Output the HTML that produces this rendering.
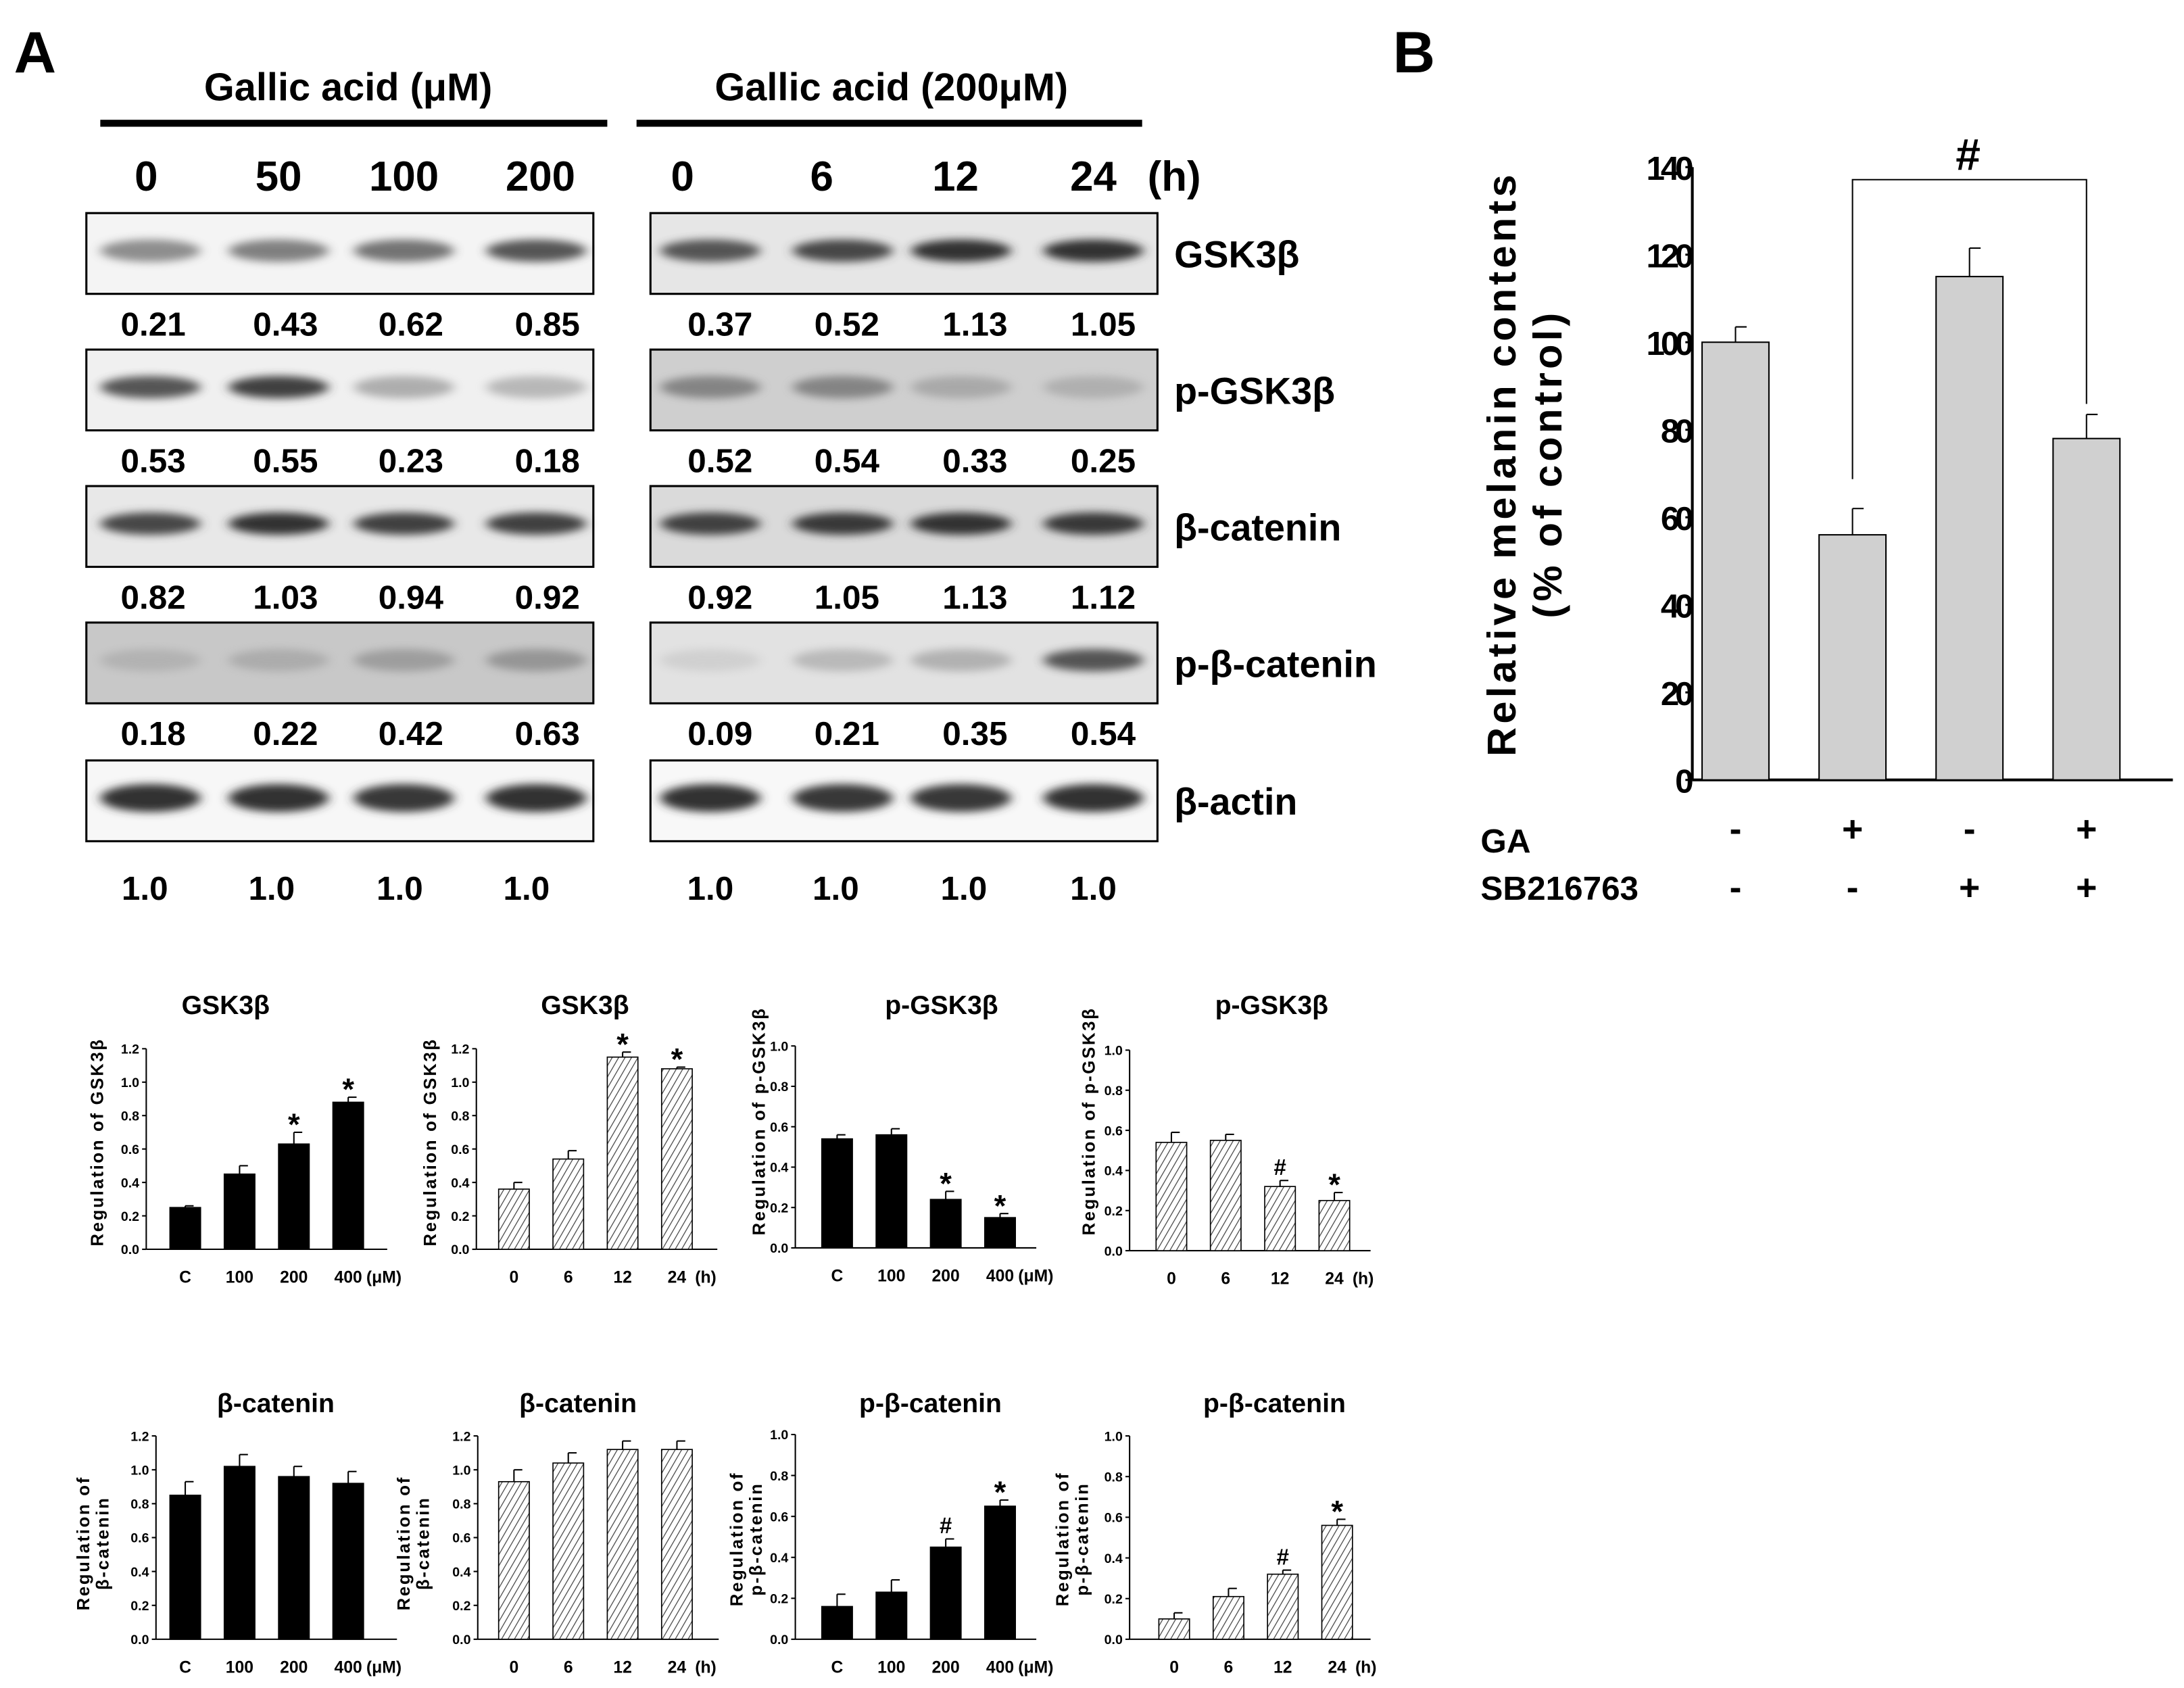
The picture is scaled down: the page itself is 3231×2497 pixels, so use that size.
<!DOCTYPE html>
<html><head><meta charset="utf-8"><style>
html,body{margin:0;padding:0;background:#fff}
svg{display:block}
text{font-family:"Liberation Sans",sans-serif;font-weight:bold;fill:#000}
</style></head><body>
<svg id="fig" width="3231" height="2497" viewBox="0 0 1568 1212" preserveAspectRatio="none" xmlns="http://www.w3.org/2000/svg">
<defs>
<filter id="blur" x="-30%" y="-100%" width="160%" height="300%"><feGaussianBlur stdDeviation="4 3"/></filter>
<pattern id="hatch" patternUnits="userSpaceOnUse" width="4" height="4" patternTransform="rotate(30)"><rect width="4" height="4" fill="#fff"/><line x1="0" y1="0" x2="0" y2="4" stroke="#444" stroke-width="1.2"/></pattern>
</defs>
<g id="root"></g>
</svg>
<script>
// ---- Panel B data ----
const bCats = ["1","2","3","4"];
const bVals = [100, 56, 115, 78];
const bErr = [3.5, 6, 6.5, 5.5];
const bTicks = [0,20,40,60,80,100,120,140];
const bGA = ["-","+","-","+"];
const bSB = ["-","-","+","+"];
// ---- small charts data ----
const concLabels = ["C","100","200","400"];
const timeLabels = ["0","6","12","24"];
const gskConcVals = [0.25, 0.45, 0.63, 0.88];
const gskConcErr = [0.01, 0.05, 0.07, 0.03];
const gskConcMarks = ["","","*","*"];
const gskTimeVals = [0.36, 0.54, 1.15, 1.08];
const gskTimeErr = [0.04, 0.05, 0.03, 0.01];
const gskTimeMarks = ["","","*","*"];
const pgskConcVals = [0.54, 0.56, 0.24, 0.15];
const pgskConcErr = [0.02, 0.03, 0.04, 0.02];
const pgskConcMarks = ["","","*","*"];
const pgskTimeVals = [0.54, 0.55, 0.32, 0.25];
const pgskTimeErr = [0.05, 0.03, 0.03, 0.04];
const pgskTimeMarks = ["","","#","*"];
const catConcVals = [0.85, 1.02, 0.96, 0.92];
const catConcErr = [0.08, 0.07, 0.06, 0.07];
const catTimeVals = [0.93, 1.04, 1.12, 1.12];
const catTimeErr = [0.07, 0.06, 0.05, 0.05];
const pcatConcVals = [0.16, 0.23, 0.45, 0.65];
const pcatConcErr = [0.06, 0.06, 0.04, 0.03];
const pcatConcMarks = ["","","#","*"];
const pcatTimeVals = [0.10, 0.21, 0.32, 0.56];
const pcatTimeErr = [0.03, 0.04, 0.02, 0.03];
const pcatTimeMarks = ["","","#","*"];
const ticks12 = [0,0.2,0.4,0.6,0.8,1.0,1.2];
const ticks10 = [0,0.2,0.4,0.6,0.8,1.0];
// ---- blot quantities ----
const blotLeft = [["0.21","0.43","0.62","0.85"],["0.53","0.55","0.23","0.18"],["0.82","1.03","0.94","0.92"],["0.18","0.22","0.42","0.63"]];
const blotRight = [["0.37","0.52","1.13","1.05"],["0.52","0.54","0.33","0.25"],["0.92","1.05","1.13","1.12"],["0.09","0.21","0.35","0.54"]];

const NS="http://www.w3.org/2000/svg";
const root=document.getElementById('root');
function el(tag,attrs,parent){const e=document.createElementNS(NS,tag);for(const k in attrs)e.setAttribute(k,attrs[k]);(parent||root).appendChild(e);return e;}
function txt(x,y,s,size,anchor,parent,extra){const t=el('text',Object.assign({x:x,y:y,'font-size':size,'text-anchor':anchor||'middle'},extra||{}),parent);t.textContent=s;return t;}

// ---- Panel A header ----
let t=txt(10,52,"A",42,'start');
t=txt(250,72,"Gallic acid (\u03bcM)",28);
t=txt(640,72,"Gallic acid (200\u03bcM)",28);
el('rect',{x:72,y:86,width:364,height:5,fill:'#000'});
el('rect',{x:457,y:86,width:363,height:5,fill:'#000'});
const leftX=[105,200,290,388], rightX=[490,590,686,785];
["0","50","100","200"].forEach((s,i)=>{const e=txt(leftX[i],137,s,30);});
["0","6","12","24"].forEach((s,i)=>{const e=txt(rightX[i],137,s,30);});
t=txt(843,137,"(h)",30);

// blots
const rowsY=[153,251,349,447,546];
const rowNames=["GSK3\u03b2","p-GSK3\u03b2","\u03b2-catenin","p-\u03b2-catenin","\u03b2-actin"];
const bgL=["#f4f4f4","#f0f0f0","#e8e8e8","#c8c8c8","#f7f7f7"], bgR=["#e6e6e6","#cfcfcf","#dadada","#e2e2e2","#f8f8f8"];
const intL=[[.55,.6,.65,.75],[.75,.85,.4,.35],[.8,.95,.85,.85],[.25,.3,.4,.45],[.95,.95,.9,.95]];
const intR=[[.75,.8,.95,.95],[.55,.55,.35,.3],[.85,.9,.95,.9],[.12,.3,.35,.75],[.95,.9,.9,.95]];
const lanesL=[108,200,290,385], lanesR=[510,605,690,785];
rowsY.forEach((y,r)=>{
  [[62,bgL,intL,lanesL],[467,bgR,intR,lanesR]].forEach(([x0,bg,inten,lanes],side)=>{
    const g=el('g',{});
    
    
    el('rect',{x:x0,y:y,width:364,height:58,fill:bg[r]},g);
    lanes.forEach((lx,i)=>{
      const a=inten[r][i];
      const c=Math.round(40+(1-a)*150);
      el('ellipse',{cx:lx,cy:y+27,rx:36,ry:r===4?10:8,fill:`rgb(${c},${c},${c})`,filter:'url(#blur)',opacity:Math.min(1,a+0.2)},g);
    });
    el('rect',{x:x0,y:y,width:364,height:58,fill:'none',stroke:'#000','stroke-width':1.5},g);
  });
  const lab=txt(843,y+39,rowNames[r],27,'start');
  if(r<4){
    blotLeft[r].forEach((s,i)=>{const e=txt(leftX[i]+5,y+88,s,24);});
    blotRight[r].forEach((s,i)=>{const e=txt([517,608,700,792][i],y+88,s,24);});
  }
});
[104,195,287,378].forEach(x=>{const e=txt(x,646,"1.0",24);});
[510,600,692,785].forEach(x=>{const e=txt(x,646,"1.0",24);});

// ---- small bar charts ----
function smallChart(o){
  const g=el('g',{});
  
  
  const maxV=o.ticks[o.ticks.length-1];
  const ys=v=>o.y0-(v/maxV)*(o.y0-o.yTop);
  const step=39, bw=22;
  const xs=i=>o.bx+i*step;
  el('line',{x1:o.ax,y1:o.yTop,x2:o.ax,y2:o.y0,stroke:'#000','stroke-width':1},g);
  el('line',{x1:o.ax,y1:o.y0,x2:o.ax+173,y2:o.y0,stroke:'#000','stroke-width':1},g);
  o.ticks.forEach(tv=>{
    el('line',{x1:o.ax-3,y1:ys(tv),x2:o.ax,y2:ys(tv),stroke:'#000'},g);
    const e=txt(o.ax-5,ys(tv)+3.5,tv.toFixed(1),9.5,'end',g);
    
    
  });
  o.vals.forEach((v,i)=>{
    const b=el('rect',{x:xs(i)-bw/2,y:ys(v),width:bw,height:o.y0-ys(v),fill:o.hatch?'url(#hatch)':'#000',stroke:'#000','stroke-width':0.8},g);
    
    
    const et=ys(v+o.err[i]);
    el('line',{x1:xs(i),y1:ys(v),x2:xs(i),y2:et,stroke:'#000'},g);
    el('line',{x1:xs(i),y1:et,x2:xs(i)+6,y2:et,stroke:'#000'},g);
    if(o.marks&&o.marks[i]){const m=txt(xs(i),et-4+(o.marks[i]==='*'?6:0),o.marks[i],o.marks[i]==='*'?22:16,'middle',g,{'font-weight':'normal'});}
    const xl=txt(xs(i),o.y0+24,o.labels[i],12,'middle',g);
    
    
  });
  const u=txt(xs(3)+13,o.y0+24,o.unit,12,'start',g);
  
  const tt=txt(o.tx,o.ty,o.title,19,'middle',g);
  
  const yl=el('g',{transform:`translate(${o.ylx},${o.ylc}) rotate(-90)`},g);
  o.ylab.forEach((s,k)=>{const e=txt(0,k*14,s,12.5,'middle',yl,{'letter-spacing':'1.3'});});
}
smallChart({name:'chart-gsk3b-conc',ax:105,bx:133,yTop:753,y0:897,ticks:ticks12,vals:gskConcVals,err:gskConcErr,marks:gskConcMarks,labels:concLabels,unit:'(\u03bcM)',title:'GSK3\u03b2',tx:162,ty:728,ylab:['Regulation of GSK3\u03b2'],ylx:74,ylc:820,hatch:false});
smallChart({name:'chart-gsk3b-time',ax:342,bx:369,yTop:753,y0:897,ticks:ticks12,vals:gskTimeVals,err:gskTimeErr,marks:gskTimeMarks,labels:timeLabels,unit:'(h)',title:'GSK3\u03b2',tx:420,ty:728,ylab:['Regulation of GSK3\u03b2'],ylx:313,ylc:820,hatch:true});
smallChart({name:'chart-pgsk3b-conc',ax:571,bx:601,yTop:751,y0:896,ticks:ticks10,vals:pgskConcVals,err:pgskConcErr,marks:pgskConcMarks,labels:concLabels,unit:'(\u03bcM)',title:'p-GSK3\u03b2',tx:676,ty:728,ylab:['Regulation of p-GSK3\u03b2'],ylx:549,ylc:805,hatch:false});
smallChart({name:'chart-pgsk3b-time',ax:811,bx:841,yTop:754,y0:898,ticks:ticks10,vals:pgskTimeVals,err:pgskTimeErr,marks:pgskTimeMarks,labels:timeLabels,unit:'(h)',title:'p-GSK3\u03b2',tx:913,ty:728,ylab:['Regulation of p-GSK3\u03b2'],ylx:786,ylc:805,hatch:true});
smallChart({name:'chart-bcatenin-conc',ax:112,bx:133,yTop:1031,y0:1177,ticks:ticks12,vals:catConcVals,err:catConcErr,marks:null,labels:concLabels,unit:'(\u03bcM)',title:'\u03b2-catenin',tx:198,ty:1014,ylab:['Regulation of','\u03b2-catenin'],ylx:64,ylc:1108,hatch:false});
smallChart({name:'chart-bcatenin-time',ax:343,bx:369,yTop:1031,y0:1177,ticks:ticks12,vals:catTimeVals,err:catTimeErr,marks:null,labels:timeLabels,unit:'(h)',title:'\u03b2-catenin',tx:415,ty:1014,ylab:['Regulation of','\u03b2-catenin'],ylx:294,ylc:1108,hatch:true});
smallChart({name:'chart-pbcatenin-conc',ax:571,bx:601,yTop:1030,y0:1177,ticks:ticks10,vals:pcatConcVals,err:pcatConcErr,marks:pcatConcMarks,labels:concLabels,unit:'(\u03bcM)',title:'p-\u03b2-catenin',tx:668,ty:1014,ylab:['Regulation of','p-\u03b2-catenin'],ylx:533,ylc:1105,hatch:false});
smallChart({name:'chart-pbcatenin-time',ax:811,bx:843,yTop:1031,y0:1177,ticks:ticks10,vals:pcatTimeVals,err:pcatTimeErr,marks:pcatTimeMarks,labels:timeLabels,unit:'(h)',title:'p-\u03b2-catenin',tx:915,ty:1014,ylab:['Regulation of','p-\u03b2-catenin'],ylx:767,ylc:1105,hatch:true});

// ---- Panel B ----
(function(){
  const g=el('g',{});
  
  
  const ax=1215,y0=560,yTop=120,maxV=140;
  const ys=v=>y0-(v/maxV)*(y0-yTop);
  const xs=i=>1246+i*84;
  let e=txt(1000,52,"B",42,'start',g);
  el('line',{x1:ax,y1:yTop,x2:ax,y2:y0,stroke:'#000','stroke-width':2},g);
  el('line',{x1:ax,y1:y0,x2:1560,y2:y0,stroke:'#000','stroke-width':2},g);
  bTicks.forEach(tv=>{
    el('line',{x1:ax-5,y1:ys(tv),x2:ax,y2:ys(tv),stroke:'#000','stroke-width':1.5},g);
    const l=txt(ax-2,ys(tv)+9,String(tv),24,'end',g,{'letter-spacing':'-3'});
    
  });
  bVals.forEach((v,i)=>{
    const b=el('rect',{x:xs(i)-24,y:ys(v),width:48,height:y0-ys(v),fill:'#d0d0d0',stroke:'#000','stroke-width':1},g);
    
    
    const et=ys(v+bErr[i]);
    el('line',{x1:xs(i),y1:ys(v),x2:xs(i),y2:et,stroke:'#000'},g);
    el('line',{x1:xs(i),y1:et,x2:xs(i)+8,y2:et,stroke:'#000'},g);
    let a=txt(xs(i),604,bGA[i],26,'middle',g);
    let s=txt(xs(i),646,bSB[i],26,'middle',g);
  });
  const br=el('polyline',{points:`1330,344 1330,129 1498,129 1498,290`,fill:'none',stroke:'#000','stroke-width':1},g);
  
  e=txt(1413,122,"#",32,'middle',g,{'font-weight':'normal'});
  e=txt(1063,612,"GA",24,'start',g);
  e=txt(1063,646,"SB216763",24,'start',g);
  const yl=el('g',{transform:'translate(1088,333) rotate(-90)'},g);
  e=txt(0,0,"Relative melanin contents",29,'middle',yl,{'letter-spacing':'2.5'});
  e=txt(0,33,"(% of control)",29,'middle',yl,{'letter-spacing':'2.5'});
})();
</script>
</body></html>
